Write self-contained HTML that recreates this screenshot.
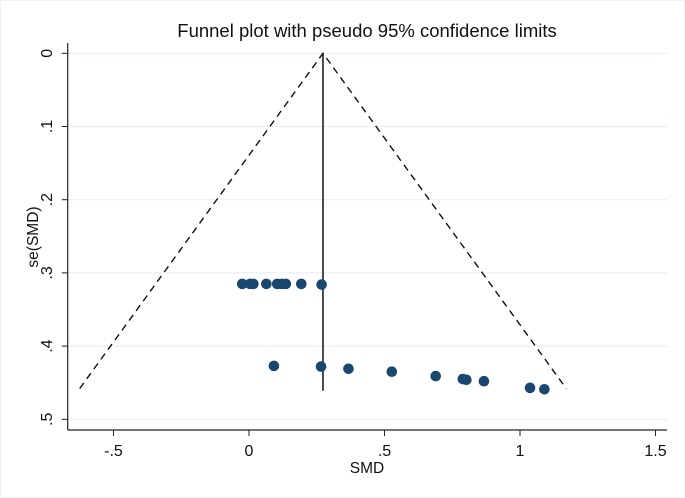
<!DOCTYPE html>
<html><head><meta charset="utf-8"><style>
html,body{margin:0;padding:0;background:#fff;}
svg{display:block;font-family:"Liberation Sans",Arial,sans-serif;}
</style></head><body>
<svg id="chart" width="685" height="498" viewBox="0 0 685 498">
<rect x="0.5" y="0.5" width="684" height="497" fill="#fff" stroke="#eef2f5"/>
<text x="367" y="37" font-size="18.5" text-anchor="middle" fill="#111">Funnel plot with pseudo 95% confidence limits</text>
<g id="grid"></g><g id="axes"></g><g id="marks"></g>
<text x="367" y="473" font-size="15.5" text-anchor="middle" fill="#111">SMD</text>
<text transform="translate(38,237) rotate(-90)" font-size="15.5" text-anchor="middle" fill="#111">se(SMD)</text>
</svg>
<script>
const xTicks=[-0.5,0,0.5,1,1.5];
const xTickLabels=["-.5","0",".5","1","1.5"];
const yTicks=[0,0.1,0.2,0.3,0.4,0.5];
const yTickLabels=["0",".1",".2",".3",".4",".5"];
const pooledSMD=0.273;
const maxSE=0.458;
const smdValues=[-0.025,0.004,0.016,0.064,0.104,0.12,0.136,0.193,0.268,0.092,0.266,0.367,0.527,0.689,0.789,0.802,0.867,1.037,1.09];
const seValues=[0.315,0.315,0.315,0.315,0.315,0.315,0.315,0.315,0.316,0.427,0.428,0.431,0.435,0.441,0.445,0.446,0.448,0.457,0.459];

const NS="http://www.w3.org/2000/svg";
const X0=67.7,X1=667,Y0=43,Y1=430;
function xs(v){return 249+v*271;}
function ys(v){return 53.3+v*732;}
function mk(tag,attrs,parent){const e=document.createElementNS(NS,tag);for(const k in attrs)e.setAttribute(k,attrs[k]);parent.appendChild(e);return e;}
const grid=document.getElementById('grid'),axes=document.getElementById('axes'),marks=document.getElementById('marks');

yTicks.forEach((t,i)=>{
  const y=ys(t);
  const g=mk('line',{x1:X0,x2:X1,y1:y,y2:y,stroke:'#e8eff3','stroke-width':1.2},grid);
  
  
  const tk=mk('line',{x1:X0-6,x2:X0,y1:y,y2:y,stroke:'#222','stroke-width':1},axes);
  
  
  const tx=mk('text',{transform:`translate(52,${y}) rotate(-90)`,'font-size':16,'text-anchor':'middle',fill:'#111'},axes);
  tx.textContent=yTickLabels[i];
  
  
});
xTicks.forEach((t,i)=>{
  const x=xs(t);
  const tk=mk('line',{x1:x,x2:x,y1:Y1,y2:Y1+6,stroke:'#222','stroke-width':1},axes);
  
  
  const tx=mk('text',{x:x,y:Y1+26,'font-size':16,'text-anchor':'middle',fill:'#111'},axes);
  tx.textContent=xTickLabels[i];
  
  
});
const ya=mk('line',{x1:X0,x2:X0,y1:Y0,y2:Y1,stroke:'#222','stroke-width':1.2},axes);


const xa=mk('line',{x1:X0,x2:X1,y1:Y1,y2:Y1,stroke:'#222','stroke-width':1.2},axes);



const ci=mk('polyline',{points:`${xs(pooledSMD-1.96*maxSE)},${ys(maxSE)} ${xs(pooledSMD)},${ys(0)} ${xs(pooledSMD+1.96*maxSE)},${ys(maxSE)}`,fill:'none',stroke:'#111','stroke-width':1.4,'stroke-dasharray':'7,5'},marks);


const pl=mk('line',{x1:xs(pooledSMD),x2:xs(pooledSMD),y1:ys(0),y2:ys(0.461),stroke:'#111','stroke-width':1.5},marks);


smdValues.forEach((v,i)=>{
  const c=mk('circle',{cx:xs(v),cy:ys(seValues[i]),r:5.3,fill:'#1a476f'},marks);
  
  
});
</script>
</body></html>
